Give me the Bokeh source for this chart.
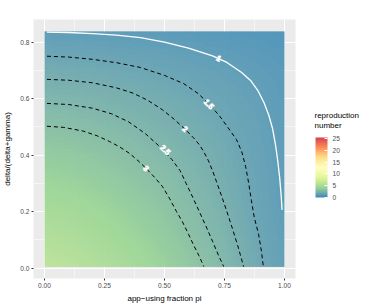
import numpy as np
from bokeh.plotting import figure
from bokeh.models import (LinearColorMapper, ColorBar, FixedTicker, Range1d,
                          ColumnDataSource, NumeralTickFormatter)
from bokeh.core.properties import value
from bokeh.embed import file_html
from bokeh.resources import INLINE

# ---- data ----
# reproduction number at grid nodes: columns = pi, rows = delta/(delta+gamma)
pi_nodes = [0.0, 0.1, 0.2, 0.3, 0.4, 0.5, 0.6, 0.7, 0.8, 0.9, 1.0]
ratio_nodes = [0.0, 0.083, 0.167, 0.25, 0.333, 0.417, 0.5, 0.583, 0.667, 0.75, 0.833]
R_grid = [
    [6.00, 5.77, 5.42, 5.00, 4.52, 4.00, 3.44, 2.85, 2.23, 1.58, 1.15],
    [5.50, 5.29, 4.97, 4.58, 4.15, 3.68, 3.17, 2.63, 2.06, 1.52, 1.08],
    [5.00, 4.81, 4.53, 4.18, 3.79, 3.37, 2.91, 2.43, 1.92, 1.39, 1.02],
    [4.50, 4.34, 4.08, 3.78, 3.44, 3.07, 2.66, 2.24, 1.79, 1.33, 0.97],
    [4.00, 3.86, 3.64, 3.38, 3.09, 2.77, 2.43, 2.06, 1.68, 1.28, 0.94],
    [3.50, 3.38, 3.20, 2.99, 2.74, 2.48, 2.19, 1.89, 1.57, 1.23, 0.92],
    [3.00, 2.91, 2.76, 2.59, 2.39, 2.17, 1.94, 1.70, 1.44, 1.18, 0.90],
    [2.50, 2.43, 2.32, 2.18, 2.03, 1.87, 1.69, 1.50, 1.30, 1.10, 0.88],
    [2.00, 1.95, 1.87, 1.77, 1.66, 1.54, 1.41, 1.28, 1.13, 0.98, 0.83],
    [1.50, 1.47, 1.41, 1.35, 1.28, 1.20, 1.11, 1.02, 0.93, 0.83, 0.73],
    [1.00, 0.98, 0.95, 0.91, 0.87, 0.83, 0.78, 0.73, 0.68, 0.62, 0.56],
]

# contour lines
c1_x = [0.01, 0.10, 0.20, 0.30, 0.40, 0.50, 0.60, 0.70, 0.76, 0.82, 0.86, 0.89,
        0.915, 0.935, 0.950, 0.962, 0.972, 0.980, 0.986, 0.990]
c1_y = [0.835, 0.834, 0.830, 0.825, 0.816, 0.800, 0.779, 0.751, 0.728, 0.693, 0.663, 0.627,
        0.585, 0.540, 0.495, 0.440, 0.380, 0.320, 0.260, 0.206]
c15_x = [0.01, 0.10, 0.20, 0.30, 0.40, 0.50, 0.58, 0.64, 0.69, 0.73, 0.765, 0.80,
         0.822, 0.838, 0.851, 0.862, 0.874, 0.892, 0.904, 0.912]
c15_y = [0.750, 0.747, 0.739, 0.727, 0.710, 0.682, 0.653, 0.618, 0.577, 0.538, 0.497, 0.455,
         0.412, 0.360, 0.300, 0.240, 0.180, 0.120, 0.060, 0.005]
c2_x = [0.01, 0.10, 0.20, 0.30, 0.37, 0.43, 0.492, 0.54, 0.585, 0.62, 0.645, 0.665,
        0.683, 0.70, 0.717, 0.74, 0.76, 0.783, 0.805, 0.83]
c2_y = [0.668, 0.665, 0.656, 0.638, 0.619, 0.594, 0.560, 0.527, 0.492, 0.462, 0.437, 0.41,
        0.38, 0.345, 0.305, 0.25, 0.20, 0.14, 0.08, 0.005]
c25_x = [0.01, 0.10, 0.20, 0.28, 0.35, 0.42, 0.48, 0.53, 0.565, 0.59, 0.618, 0.645,
         0.672, 0.70, 0.725, 0.747]
c25_y = [0.583, 0.579, 0.566, 0.546, 0.518, 0.476, 0.43, 0.385, 0.345, 0.30, 0.25, 0.20,
         0.15, 0.095, 0.045, 0.005]
c3_x = [0.01, 0.08, 0.161, 0.22, 0.271, 0.315, 0.354, 0.39, 0.423, 0.46, 0.492, 0.522,
        0.55, 0.574, 0.60, 0.622, 0.643, 0.664]
c3_y = [0.502, 0.498, 0.485, 0.468, 0.448, 0.428, 0.406, 0.38, 0.353, 0.32, 0.288, 0.245,
        0.20, 0.165, 0.12, 0.08, 0.045, 0.005]

label_text = ["1", "1.5", "2", "2.5", "3"]
label_x = [0.726, 0.685, 0.585, 0.503, 0.423]
label_y = [0.742, 0.580, 0.492, 0.418, 0.353]
label_angle_deg = [-28, -47, -42, -45, -45]

x_ticks = [0, 0.25, 0.5, 0.75, 1.0]
y_ticks = [0, 0.2, 0.4, 0.6, 0.8]
bar_ticks = [0, 5, 10, 15, 20, 25]
legend_title = "reproduction\nnumber"

# ---- palette: reversed Spectral (7), interpolated in Lab ----
anchors = ["#3288BD", "#99D594", "#E6F598", "#FFFFBF", "#FEE08B", "#FC8D59", "#D53E4F"]
WHITE = np.array([0.95047, 1.0, 1.08883])
M = np.array([[0.4124, 0.3576, 0.1805], [0.2126, 0.7152, 0.0722], [0.0193, 0.1192, 0.9505]])
Minv = np.linalg.inv(M)

def to_lab(h):
    rgb = np.array([int(h[i:i + 2], 16) for i in (1, 3, 5)]) / 255.0
    lin = np.where(rgb <= 0.04045, rgb / 12.92, ((rgb + 0.055) / 1.055) ** 2.4)
    t = (M @ lin) / WHITE
    f = np.where(t > 0.008856, np.cbrt(t), 7.787 * t + 16 / 116)
    return np.array([116 * f[1] - 16, 500 * (f[0] - f[1]), 200 * (f[1] - f[2])])

def from_lab(lab):
    fy = (lab[0] + 16) / 116
    fx = fy + lab[1] / 500
    fz = fy - lab[2] / 200
    f = np.array([fx, fy, fz])
    t = np.where(f ** 3 > 0.008856, f ** 3, (f - 16 / 116) / 7.787) * WHITE
    lin = np.clip(Minv @ t, 0, 1)
    rgb = np.where(lin <= 0.0031308, 12.92 * lin, 1.055 * lin ** (1 / 2.4) - 0.055)
    rgb = np.clip(np.round(rgb * 255), 0, 255).astype(int)
    return "#%02x%02x%02x" % tuple(rgb)

labs = [to_lab(h) for h in anchors]
palette = []
n = 256
for i in range(n):
    s = i / (n - 1) * (len(anchors) - 1)
    k = min(int(s), len(anchors) - 2)
    fr = s - k
    palette.append(from_lab(labs[k] * (1 - fr) + labs[k + 1] * fr))

mapper = LinearColorMapper(palette=palette, low=0, high=25.5)

# smooth (Gouraud-style) shading of the node table for display
Z = np.array(R_grid)
nx, ny = 120, 100
fx = np.linspace(pi_nodes[0], pi_nodes[-1], nx)
fy = np.linspace(ratio_nodes[0], ratio_nodes[-1], ny)
tmp = np.array([np.interp(fx, pi_nodes, row) for row in Z])
shade = np.array([np.interp(fy, ratio_nodes, tmp[:, j]) for j in range(nx)]).T

FONT = "Liberation Sans"

p = figure(width=382, height=305, output_backend="svg", toolbar_location=None,
           x_range=Range1d(-0.046, 1.046), y_range=Range1d(-0.037, 0.88),
           min_border_left=30, min_border_right=87, min_border_top=19, min_border_bottom=27)
p.background_fill_color = "#EBEBEB"
p.border_fill_color = "white"
p.outline_line_color = None

p.image(image=[shade], x=0, y=0.004, dw=1, dh=0.834,
        color_mapper=mapper, global_alpha=0.93)

p.line(c1_x, c1_y, line_color="white", line_width=1.3)
for xs, ys in [(c15_x, c15_y), (c2_x, c2_y), (c25_x, c25_y), (c3_x, c3_y)]:
    p.line(xs, ys, line_color="black", line_width=1.0, line_dash="4 3")

src = ColumnDataSource(dict(x=label_x, y=label_y, text=label_text,
                            angle=[np.deg2rad(a) for a in label_angle_deg]))
p.text(x="x", y="y", text="text", angle="angle", source=src,
       text_font=value(FONT), text_font_size="7.5px", text_color="#3a3a3a",
       text_outline_color="white", text_align="center", text_baseline="middle")

for g, ticks, minor in [(p.xgrid, x_ticks, [0.125, 0.375, 0.625, 0.875]),
                        (p.ygrid, y_ticks, [0.1, 0.3, 0.5, 0.7])]:
    g.ticker = FixedTicker(ticks=ticks, minor_ticks=minor)
    g.grid_line_color = "white"
    g.grid_line_width = 1.0
    g.minor_grid_line_color = "white"
    g.minor_grid_line_width = 0.5

p.xaxis.ticker = FixedTicker(ticks=x_ticks)
p.yaxis.ticker = FixedTicker(ticks=y_ticks)
p.xaxis.formatter = NumeralTickFormatter(format="0.00")
p.yaxis.formatter = NumeralTickFormatter(format="0.0")
p.xaxis.axis_label = "app\u2212using fraction pi"
p.yaxis.axis_label = "delta/(delta+gamma)"
for ax in (p.xaxis[0], p.yaxis[0]):
    ax.axis_line_color = None
    ax.major_tick_line_color = "#333333"
    ax.major_tick_out = 2
    ax.major_tick_in = 0
    ax.minor_tick_out = 0
    ax.minor_tick_in = 0
    ax.major_label_text_font = FONT
    ax.major_label_text_font_size = "6.6px"
    ax.major_label_text_color = "#4D4D4D"
    ax.major_label_standoff = 2
    ax.axis_label_text_font = FONT
    ax.axis_label_text_font_size = "8px"
    ax.axis_label_text_font_style = "normal"
    ax.axis_label_text_color = "black"
p.xaxis.axis_label_standoff = 3
p.yaxis.axis_label_standoff = 5

cb = ColorBar(color_mapper=mapper, ticker=FixedTicker(ticks=bar_ticks),
              width=12, height=60,
              major_label_text_font=FONT, major_label_text_font_size="6.6px",
              major_label_text_color="#4D4D4D", major_tick_line_color="white",
              major_tick_in=3, label_standoff=5, bar_line_color=None,
              border_line_color=None, background_fill_color=None,
              padding=0, location=(282, 81))
p.add_layout(cb, "center")

# legend title: carried by a hidden horizontal colour bar (its title is drawn level, above it)
cb_title = ColorBar(color_mapper=mapper, orientation="horizontal", ticker=FixedTicker(ticks=[]),
                    width=45, height=1, scale_alpha=0, title=legend_title,
                    title_text_font=FONT, title_text_font_size="8px",
                    title_text_font_style="normal", title_text_color="black",
                    title_standoff=0, major_label_text_font_size="1px",
                    major_label_text_alpha=0, major_tick_line_color=None,
                    minor_tick_line_color=None, bar_line_color=None,
                    border_line_color=None, background_fill_color=None,
                    padding=0, location=(281, 147))
p.add_layout(cb_title, "center")

open("out.html", "w").write(file_html(p, INLINE))
